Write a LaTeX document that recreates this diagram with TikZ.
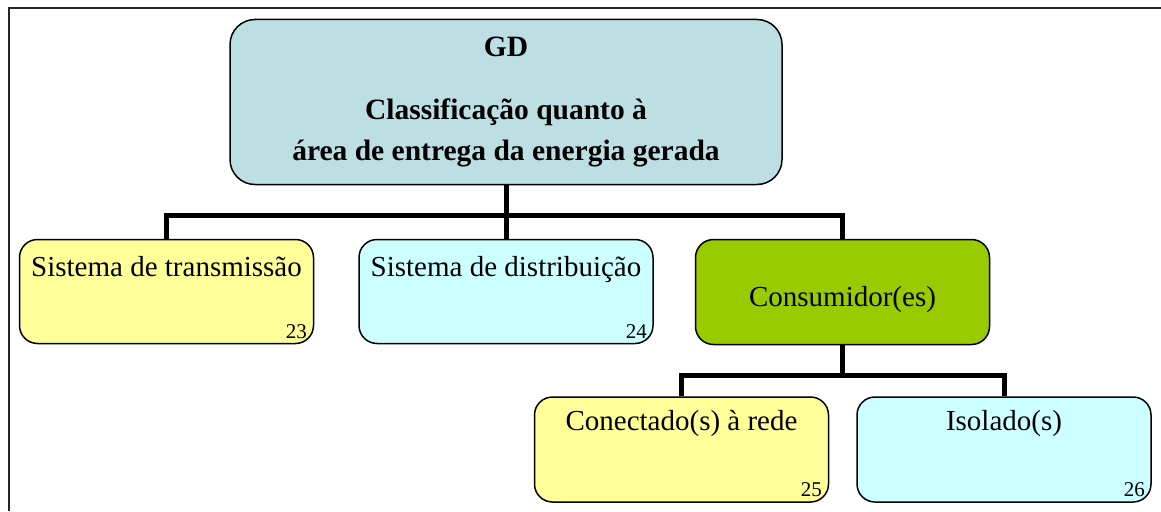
\documentclass[tikz,border=0pt]{standalone}
\usepackage{fontspec}
\setmainfont{Liberation Serif}
\definecolor{cTop}{RGB}{189,223,227}
\definecolor{cYel}{RGB}{255,255,153}
\definecolor{cCya}{RGB}{204,255,255}
\definecolor{cGrn}{RGB}{153,204,0}
\tikzstyle{bS}=[draw,line width=1.5pt,rounded corners=18pt,inner sep=0pt,minimum width=294pt,minimum height=104pt,font=\fontsize{29}{34}\selectfont]
\tikzstyle{tS}=[inner sep=0pt,anchor=base,font=\fontsize{29}{34}\selectfont]
\tikzstyle{nS}=[inner sep=0pt,anchor=base east,font=\fontsize{21}{24}\selectfont]
\tikzstyle{eS}=[line width=5pt]

\begin{document}
\begin{tikzpicture}[x=1pt,y=-1pt]
                \useasboundingbox (0,0) rectangle (1161,511);
                \draw[line width=2pt,black!85] (9,511) -- (9,8) -- (1161,8);
                % level 0
                \draw (506,102) node[bS,fill=cTop,minimum width=552pt,minimum height=165pt,rounded corners=25pt,align=center,font=\fontsize{29.5}{41}\selectfont\bfseries] (gd) {GD\\[22pt]Classificação quanto à\\área de entrega da energia gerada};
                % level 1
                \draw (166.5,291.5) node[bS,fill=cYel] (ts) {};
                \draw (506,291.5) node[bS,fill=cCya] (ds) {};
                \draw (842.5,292) node[bS,fill=cGrn,minimum height=105pt] (cs) {};
                \draw (166.5,276) node[tS] (tsT) {Sistema de transmissão};
                \draw (506,276) node[tS] (dsT) {Sistema de distribuição};
                \draw (842.5,306) node[tS] (csT) {Consumidor(es)};
                \draw (307,338) node[nS] (tsN) {23};
                \draw (647,338) node[nS] (dsN) {24};
                % level 2
                \draw (681.5,449.5) node[bS,fill=cYel,minimum height=105pt] (cr) {};
                \draw (1004,449.5) node[bS,fill=cCya,minimum height=105pt] (is) {};
                \draw (681.5,430) node[tS] (crT) {Conectado(s) à rede};
                \draw (1004,430) node[tS] (isT) {Isolado(s)};
                \draw (822,496) node[nS] (crN) {25};
                \draw (1145,496) node[nS] (isN) {26};
                \coordinate (j1) at (506,215);
                \coordinate (j2) at (842.5,375);
                \draw[eS] (ts) |- (j1) -| (cs);
                \draw[eS] (gd) -- (ds);
                \draw[eS] (cr) |- (j2) -| (is);
                \draw[eS] (cs) -- (j2);
        \end{tikzpicture}
\end{document}
